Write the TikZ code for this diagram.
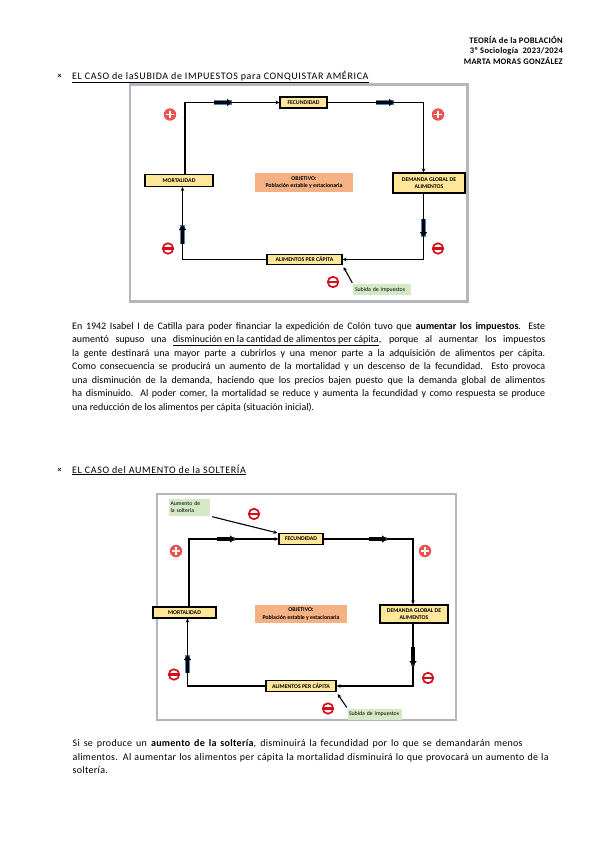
\documentclass[tikz,border=0pt]{standalone}
\usepackage{fontspec}
\setmainfont{Carlito}
\usetikzlibrary{arrows.meta}
\definecolor{boxyel}{HTML}{FFE699}
\definecolor{objor}{HTML}{F4B183}
\definecolor{subgr}{HTML}{D5E8C6}
\definecolor{framegr}{HTML}{B4B8BE}
\definecolor{plusred}{HTML}{EE5353}
\definecolor{minred}{HTML}{D0101B}
\definecolor{arrblue}{HTML}{4F81BD}
\tikzset{
  ybox/.style={draw=black, line width=1.1pt, fill=boxyel, inner sep=0pt, align=center,
    font=\fontsize{5.8}{6.6}\selectfont\bfseries},
  obox/.style={fill=objor, inner sep=0pt, align=center, font=\fontsize{5.8}{7.2}\selectfont\bfseries},
  gbox/.style={fill=subgr, inner sep=0pt, align=left, font=\fontsize{5.8}{7}\selectfont},
  frame/.style={draw=framegr, line width=2.6pt, fill=white},
  conn/.style={line width=1.1pt, -{Stealth[length=4pt,width=3.6pt]}},
  thickarr/.style={line width=3.4pt, -{Triangle[length=5pt,width=7pt]},
    preaction={draw=arrblue, line width=4.6pt, -}},
  plusc/.style={circle, fill=plusred, minimum size=12.5pt, inner sep=0pt,
    path picture={
      \draw[white, line width=1.8pt] ([xshift=-3.6pt]path picture bounding box.center) -- ([xshift=3.6pt]path picture bounding box.center);
      \draw[white, line width=1.8pt] ([yshift=-3.6pt]path picture bounding box.center) -- ([yshift=3.6pt]path picture bounding box.center);}},
  minc/.style={circle, draw=minred, line width=1.7pt, fill=white, minimum size=10.5pt, inner sep=0pt,
    path picture={
      \draw[minred, line width=2.2pt] ([xshift=-5pt]path picture bounding box.center) -- ([xshift=5pt]path picture bounding box.center);}},
  bodytxt/.style={anchor=base west, inner sep=0pt, font=\fontsize{10}{12}\selectfont},
  bodytxtb/.style={anchor=base west, inner sep=0pt, font=\fontsize{10}{12}\selectfont\addfontfeatures{LetterSpace=3}},
  headtxt/.style={anchor=base east, inner sep=0pt, font=\fontsize{8.5}{9}\selectfont\bfseries\addfontfeatures{LetterSpace=3}},
  titletxt/.style={anchor=base west, inner sep=0pt, font=\fontsize{10}{12}\selectfont\addfontfeatures{LetterSpace=6.5}},
  bullet/.style={anchor=base, inner sep=0pt, font=\fontsize{8}{9}\selectfont\bfseries},
}
\begin{document}
\begin{tikzpicture}[x=1pt, y=-1pt]
\useasboundingbox[fill=white] (0,0) rectangle (599,848);

% header
\node[headtxt] (h1) at (563,43.5) {TEORÍA de la POBLACIÓN};
\node[headtxt] (h2) at (563,54) {3º Sociología\ \ 2023/2024};
\node[headtxt] (h3) at (563,64.5) {MARTA MORAS GONZÁLEZ};

% ---------- section 1 ----------
\node[bullet] (b1) at (59.5,79) {×};
\node[titletxt] (t1) at (72,79.5) {\underline{EL CASO de laSUBIDA de IMPUESTOS para CONQUISTAR AMÉRICA}};

\draw[frame] (130,84.5) rectangle (467.5,301.5);

\node[ybox, minimum width=47pt, minimum height=11pt] (fec1) at (303.5,102.5) {FECUNDIDAD};
\node[ybox, minimum width=68pt, minimum height=12pt] (mor1) at (179,180.5) {MORTALIDAD};
\node[ybox, minimum width=72pt, minimum height=20pt] (dem1) at (429,183) {DEMANDA GLOBAL DE\\ALIMENTOS};
\node[obox, minimum width=98pt, minimum height=19pt] (obj1) at (304,182.5) {OBJETIVO:\\Población estable y estacionaria};
\node[ybox, minimum width=75pt, minimum height=10.5pt] (ali1) at (304.5,259.5) {ALIMENTOS PER CÁPITA};
\node[gbox, minimum width=58pt, minimum height=11pt, text width=54pt] (sub1) at (382,289.5) {Subida de impuestos};

\coordinate (c1a) at (185,180.5);
\coordinate (c1b) at (423.5,183);
\coordinate (c1c) at (182.5,180.5);
\draw[conn] (c1a |- mor1.north) |- (fec1.west);
\draw[conn] (fec1.east) -| (c1b |- dem1.north);
\draw[conn] (c1b |- dem1.south) |- (ali1.east);
\draw[conn] (ali1.west) -| (c1c |- mor1.south);
\draw[conn, shorten <=1pt, shorten >=2pt] (sub1.north west) -- (ali1.south east);

\draw[thickarr] (214,102.5) -- (232,102.5);
\draw[thickarr] (376,102.5) -- (394,102.5);
\draw[thickarr] (423.5,219) -- (423.5,237);
\draw[thickarr] (182.5,244) -- (182.5,225);

\node[plusc] (p1a) at (170,114.5) {};
\node[plusc] (p1b) at (438,114.5) {};
\node[minc] (m1a) at (168,248.5) {};
\node[minc] (m1b) at (438,248.5) {};
\node[minc] (m1c) at (333,282) {};

% paragraph 1
\node[bodytxt] (l11) at (72,329) {\hbox to 473pt{En 1942 Isabel I de Catilla para poder financiar la expedición de Colón tuvo que \textbf{aumentar los impuestos}. Este}};
\node[bodytxt] (l12) at (72,342.5) {\hbox to 473pt{aumentó supuso una \underline{disminución en la cantidad de alimentos per cápita}, porque al aumentar los impuestos}};
\node[bodytxt] (l13) at (72,356) {\hbox to 473pt{la gente destinará una mayor parte a cubrirlos y una menor parte a la adquisición de alimentos per cápita.}};
\node[bodytxt] (l14) at (72,369.5) {\hbox to 473pt{Como consecuencia se producirá un aumento de la mortalidad y un descenso de la fecundidad. Esto provoca}};
\node[bodytxt] (l15) at (72,383) {\hbox to 473pt{una disminución de la demanda, haciendo que los precios bajen puesto que la demanda global de alimentos}};
\node[bodytxt] (l16) at (72,396.5) {\hbox to 473pt{ha disminuido. Al poder comer, la mortalidad se reduce y aumenta la fecundidad y como respuesta se produce}};
\node[bodytxt] (l17) at (72,410) {una reducción de los alimentos per cápita (situación inicial).};

% ---------- section 2 ----------
\node[bullet] (b2) at (59.5,472.5) {×};
\node[titletxt] (t2) at (72,473) {\underline{EL CASO del AUMENTO de la SOLTERÍA}};

\draw[frame] (157,494) rectangle (456,720);

\node[gbox, minimum width=41pt, minimum height=17pt, text width=38pt] (aum2) at (189.5,507.5) {Aumento de\\la soltería};
\node[ybox, minimum width=44pt, minimum height=10.5pt] (fec2) at (301,539) {FECUNDIDAD};
\node[ybox, minimum width=63pt, minimum height=11pt] (mor2) at (184.5,612.5) {MORTALIDAD};
\node[ybox, minimum width=68pt, minimum height=18pt] (dem2) at (414,614) {DEMANDA GLOBAL DE\\ALIMENTOS};
\node[obox, minimum width=92pt, minimum height=18pt] (obj2) at (301,614) {OBJETIVO:\\Población estable y estacionaria};
\node[ybox, minimum width=70pt, minimum height=11.5pt] (ali2) at (301,686) {ALIMENTOS PER CÁPITA};
\node[gbox, minimum width=54pt, minimum height=11pt, text width=51pt] (sub2) at (374.5,714) {Subida de impuestos};

\coordinate (c2a) at (189,612);
\coordinate (c2b) at (413,614);
\coordinate (c2c) at (187.5,612);
\draw[conn] (c2a |- mor2.north) |- (fec2.west);
\draw[conn] (fec2.east) -| (c2b |- dem2.north);
\draw[conn] (c2b |- dem2.south) |- (ali2.east);
\draw[conn] (ali2.west) -| (c2c |- mor2.south);
\draw[conn, shorten <=1pt, shorten >=2pt] (sub2.north west) -- (ali2.south east);
\draw[conn, shorten <=2pt, shorten >=1pt] (aum2.south east) -- (fec2.north west);

\draw[thickarr] (217,539) -- (235,539);
\draw[thickarr] (369,539) -- (387,539);
\draw[thickarr] (413,647) -- (413,666);
\draw[thickarr] (187.5,673) -- (187.5,655);

\node[plusc] (p2a) at (176,551) {};
\node[plusc] (p2b) at (425,551) {};
\node[minc] (m2a) at (254,514) {};
\node[minc] (m2b) at (174,674.5) {};
\node[minc] (m2c) at (428,678) {};
\node[minc] (m2d) at (328,708.5) {};

% paragraph 2
\node[bodytxtb] (l21) at (72.5,746.5) {\hbox to 450pt{Si se produce un \textbf{aumento de la soltería}, disminuirá la fecundidad por lo que se demandarán menos}};
\node[bodytxtb] (l22) at (72.5,760) {\hbox to 476pt{alimentos. Al aumentar los alimentos per cápita la mortalidad disminuirá lo que provocará un aumento de la}};
\node[bodytxtb] (l23) at (72.5,773.5) {soltería.};
\end{tikzpicture}
\end{document}
